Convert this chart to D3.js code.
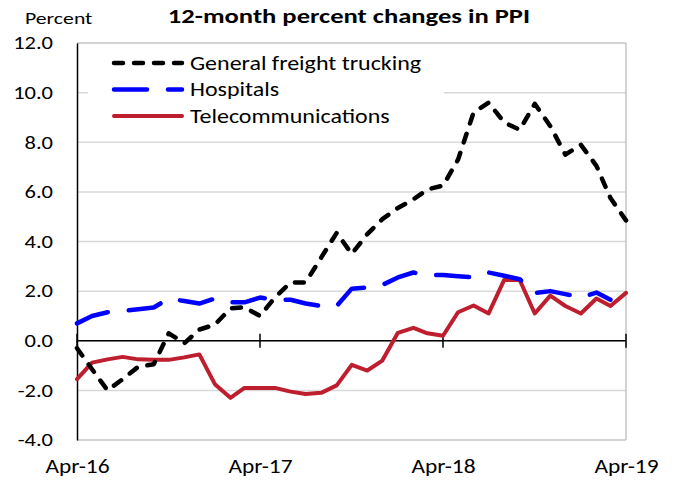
<!DOCTYPE html>
<html>
<head>
<meta charset="utf-8">
<script src="https://cdn.jsdelivr.net/npm/d3@7"></script>
<style>
  body { margin: 0; background: #fff; }
  text { font-family: Carlito, Lato, "Liberation Sans", sans-serif; fill: #000; }
</style>
</head>
<body>
<div id="chart"></div>
<script>
// monthly, Apr-16 .. Apr-19
const startMonth = new Date(2016, 3, 1);
const tickLabels = ["Apr-16", "Apr-17", "Apr-18", "Apr-19"];
const yTicks = [-4, -2, 0, 2, 4, 6, 8, 10, 12];

const trucking = [-0.3, -1.15, -2.0, -1.55, -1.05, -0.95, 0.3, -0.1, 0.45, 0.65, 1.3, 1.35, 1.0,
  1.75, 2.35, 2.35, 3.35, 4.35, 3.5, 4.3, 4.9, 5.35, 5.7, 6.1, 6.25,
  7.3, 9.2, 9.6, 8.8, 8.5, 9.55, 8.65, 7.5, 7.9, 7.05, 5.75, 4.85];
const hospitals = [0.7, 1.0, 1.15, 1.2, 1.27, 1.34, 1.7, 1.6, 1.5, 1.7, 1.55, 1.55, 1.74,
  1.65, 1.65, 1.5, 1.4, 1.4, 2.1, 2.15, 2.25, 2.55, 2.75, 2.65, 2.65,
  2.6, 2.55, 2.75, 2.62, 2.48, 1.92, 2.0, 1.88, 1.74, 1.94, 1.65];
const telecom = [-1.55, -0.88, -0.75, -0.65, -0.75, -0.77, -0.77, -0.67, -0.55, -1.75, -2.3, -1.9, -1.9,
  -1.9, -2.05, -2.15, -2.1, -1.8, -0.97, -1.2, -0.8, 0.32, 0.52, 0.3, 0.2,
  1.15, 1.42, 1.1, 2.45, 2.45, 1.1, 1.82, 1.4, 1.1, 1.7, 1.4, 1.93];

const series = [
  { name: "General freight trucking", values: trucking, color: "#000000", dash: "9,11", width: 4.5 },
  { name: "Hospitals", values: hospitals, color: "#0000ff", dash: "33,21", width: 4.5 },
  { name: "Telecommunications", values: telecom, color: "#be1e2d", dash: null, width: 4 }
];

const W = 675, H = 480;
const margin = { top: 43, right: 49, bottom: 40, left: 77 };

// the original text is wide (Calibri-ish), so widen Lato a bit
function widen(sel, k) {
  sel.each(function () {
    const t = d3.select(this);
    const x0 = +t.attr("x") || 0;
    t.attr("x", x0 / k).attr("transform", `scale(${k},1)`);
  });
}

const svg = d3.select("#chart").append("svg")
  .attr("width", W).attr("height", H);

const monthOf = i => d3.timeMonth.offset(startMonth, i);

const x = d3.scaleTime()
  .domain([startMonth, monthOf(36)])
  .range([margin.left, W - margin.right]);
const y = d3.scaleLinear()
  .domain([-4, 12])
  .range([H - margin.bottom, margin.top]);

// gridlines
svg.append("g")
  .selectAll("line").data(yTicks).join("line")
  .attr("x1", margin.left).attr("x2", W - margin.right)
  .attr("y1", d => y(d)).attr("y2", d => y(d))
  .attr("stroke", d => d === -4 || d === 12 ? "#c4c4c4" : "#d9d9d9")
  .attr("stroke-width", 1.5);

// right border
svg.append("line")
  .attr("x1", W - margin.right).attr("x2", W - margin.right)
  .attr("y1", y(12)).attr("y2", y(-4))
  .attr("stroke", "#c4c4c4").attr("stroke-width", 1.5);

// y axis labels
const yAxis = svg.append("g")
  .attr("transform", `translate(${margin.left},0)`)
  .call(d3.axisLeft(y).tickValues(yTicks).tickSize(0).tickPadding(24)
    .tickFormat(d => d.toFixed(1)));
yAxis.select(".domain").attr("stroke", "#000").attr("stroke-width", 1.5);
yAxis.selectAll("text").style("font-size", "18px").call(widen, 1.25);

// zero line with crossing ticks
const tickDates = tickLabels.map((_, k) => monthOf(k * 12));
svg.append("line")
  .attr("x1", margin.left).attr("x2", W - margin.right)
  .attr("y1", y(0)).attr("y2", y(0))
  .attr("stroke", "#000").attr("stroke-width", 1.5);
svg.append("g").selectAll("line").data(tickDates).join("line")
  .attr("x1", d => x(d)).attr("x2", d => x(d))
  .attr("y1", y(0) - 7).attr("y2", y(0) + 7)
  .attr("stroke", "#000").attr("stroke-width", 1.5);

// x labels at bottom
const xAxis = svg.append("g")
  .attr("transform", `translate(0,${H - margin.bottom})`)
  .call(d3.axisBottom(x).tickValues(tickDates).tickSize(0).tickPadding(19)
    .tickFormat((d, i) => tickLabels[i]));
xAxis.select(".domain").remove();
xAxis.selectAll("text").style("font-size", "19.5px").call(widen, 1.2);

// legend box (covers grid)
svg.append("rect")
  .attr("x", 88).attr("y", 46).attr("width", 356).attr("height", 84)
  .attr("fill", "#fff");

const line = d3.line()
  .x((d, i) => x(monthOf(i)))
  .y(d => y(d));

// draw order: trucking on top
[series[2], series[1], series[0]].forEach(s => {
  svg.append("path")
    .datum(s.values)
    .attr("d", line)
    .attr("fill", "none")
    .attr("stroke", s.color)
    .attr("stroke-width", s.width)
    .attr("stroke-linecap", "round")
    .attr("stroke-linejoin", "round")
    .attr("stroke-dasharray", s.dash);
});

// legend
const legend = svg.append("g");
series.forEach((s, i) => {
  const ly = 63 + i * 26.5;
  legend.append("line")
    .attr("x1", 114).attr("x2", 182)
    .attr("y1", ly).attr("y2", ly)
    .attr("stroke", s.color)
    .attr("stroke-width", s.width)
    .attr("stroke-linecap", "round")
    .attr("stroke-dasharray", s.dash);
  legend.append("text")
    .attr("x", 190).attr("y", ly + 7)
    .style("font-size", "19.5px")
    .text(s.name)
    .call(widen, 1.23);
});

// title and unit
svg.append("text")
  .attr("x", 349).attr("y", 23)
  .attr("text-anchor", "middle")
  .style("font-size", "20px").style("font-weight", "bold")
  .text("12-month percent changes in PPI")
  .call(widen, 1.33);
svg.append("text")
  .attr("x", 25).attr("y", 24)
  .style("font-size", "17px")
  .text("Percent")
  .call(widen, 1.28);
</script>
</body>
</html>
